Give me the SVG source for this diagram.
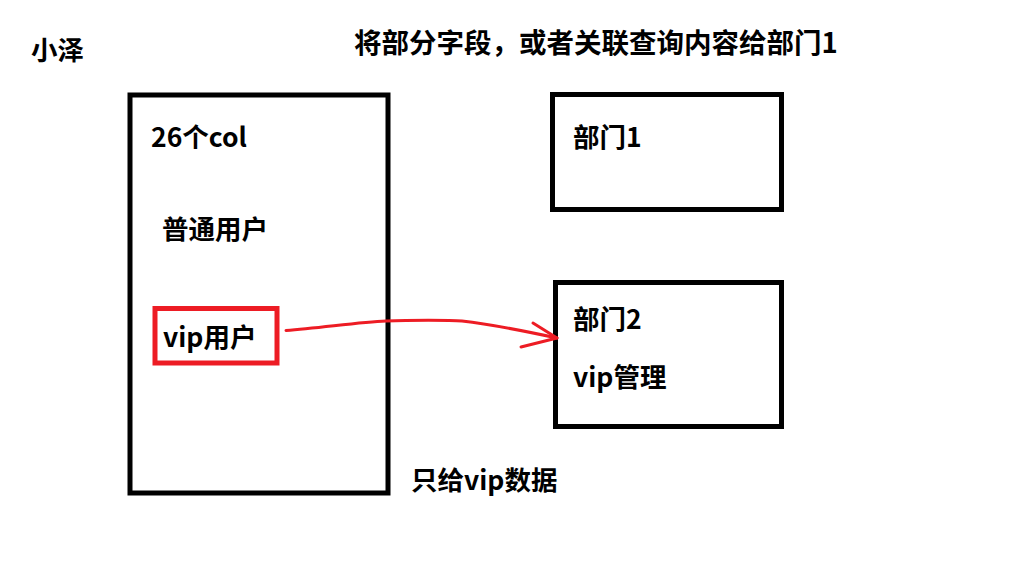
<svg xmlns="http://www.w3.org/2000/svg" width="1018" height="577" viewBox="0 0 1018 577">
<style>
text{font-family:"Noto Sans CJK SC","Microsoft YaHei","Noto Sans",sans-serif;font-weight:bold;font-size:26.5px;fill:#000}
.title{font-size:27.5px}
.box{fill:none;stroke:#000;stroke-width:5}
.red{fill:none;stroke:#ed1c24;stroke-width:5}
.conn{fill:none;stroke:#ed1c24;stroke-width:3;stroke-linecap:round;stroke-linejoin:round}
</style>
<rect width="1018" height="577" fill="#fff"/>
<text x="31" y="60">小泽</text>
<text class="title" x="354" y="53">将部分字段，或者关联查询内容给部门1</text>
<g id="xiaoze">
<rect class="box" x="130" y="95" width="258" height="398"/>
<text x="151" y="147">26个col</text>
<text x="162" y="239">普通用户</text>
</g>
<g id="vip">
<rect class="red" x="155" y="308.5" width="122" height="54.5"/>
<text x="163" y="347">vip用户</text>
</g>
<g id="dept1">
<rect class="box" x="552.5" y="94.5" width="229" height="115"/>
<text x="573" y="147">部门1</text>
</g>
<g id="dept2">
<rect class="box" x="555.5" y="282.5" width="226" height="144"/>
<text x="573" y="329">部门2</text>
<text x="573" y="387">vip管理</text>
</g>
<text x="411" y="490">只给vip数据</text>
<g id="connectors">
<path class="conn" d="M286 330.5 C320 328 360 322 386 321 C410 320 450 320 462 321 C480 323 520 330 557 338"/>
<path class="conn" d="M533 323 L557 338 L521 347"/>
</g>
</svg>
